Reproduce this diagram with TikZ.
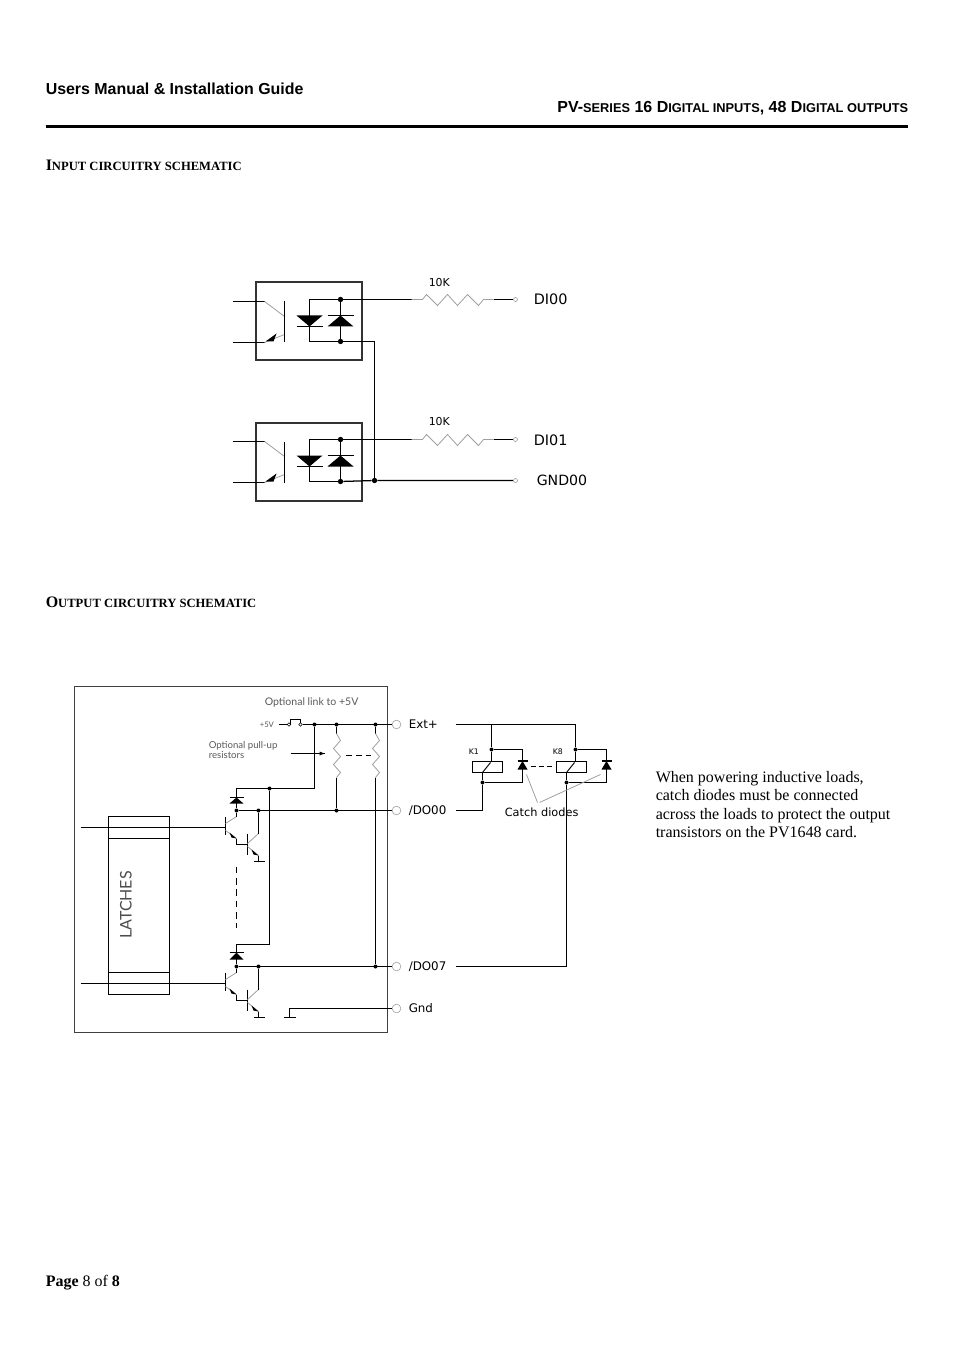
\documentclass[tikz,border=0pt]{standalone}
\usepackage{fontspec}
\usepackage{tikz}
\setmainfont{Liberation Serif}
\newfontfamily\headfont{Liberation Sans}
\newfontfamily\labelfont{DejaVu Sans}
\newfontfamily\cadfont{Lato}
\newcommand{\diode}[4]{\fill (#1-#4,#3) -- (#1+#4,#3) -- (#1,#2) -- cycle; \draw[line width=0.9pt] (#1-#4,#2) -- (#1+#4,#2);}
\tikzset{
  wire/.style={draw, line width=0.95pt},
  thin wire/.style={draw, gray!75, line width=0.6pt},
  dot/.style={circle, fill, inner sep=0pt, minimum size=4pt},
  smalldot/.style={circle, fill, inner sep=0pt, minimum size=3pt},
  term/.style={circle, draw, gray!70, fill=white, inner sep=0pt, line width=0.5pt, minimum size=#1},
  term/.default=6.5pt,
  opto/.style={draw, gray!40!black, line width=1.5pt, minimum width=79.5pt, minimum height=58.5pt},
  txt/.style={anchor=west, inner sep=0pt},
  lbl/.style={txt, font=\labelfont\fontsize{#1}{#1}\selectfont},
  cad/.style={txt, gray!70!black, font=\cadfont\fontsize{#1}{#1}\selectfont}
}
\begin{document}
\begin{tikzpicture}[x=0.75pt, y=-0.75pt, shift={(-0.5,0.5)}]
\useasboundingbox (0.5,-0.5) rectangle (954.5,1350.5);
% Page header
\node[txt, font=\headfont\bfseries\fontsize{11.95}{12}\selectfont] (title) at (46,88.5) {Users Manual \& Installation Guide};
\node[anchor=east, inner sep=0pt, font=\headfont\bfseries\fontsize{12}{12}\selectfont] (series) at (909,108)
  {PV-{\fontsize{9.6}{9.6}\selectfont SERIES} 16 D{\fontsize{9.6}{9.6}\selectfont IGITAL INPUTS}, 48 D{\fontsize{9.6}{9.6}\selectfont IGITAL OUTPUTS}};
\coordinate (rulea) at (46,126);
\coordinate (ruleb) at (908,126);
\draw[line width=2.2pt] (rulea) -- (ruleb);
\node[txt, font=\bfseries\fontsize{12}{12}\selectfont] (insec) at (46,164.8) {I{\fontsize{9.45}{9.6}\selectfont NPUT CIRCUITRY SCHEMATIC}};
\node[txt, font=\bfseries\fontsize{12}{12}\selectfont] (outsec) at (46,601.8) {O{\fontsize{9.45}{9.6}\selectfont UTPUT CIRCUITRY SCHEMATIC}};
\node[txt, font=\fontsize{12}{12}\selectfont] (page) at (46,1282.5) {\textbf{Page} 8 of \textbf{8}};
% Input optocouplers
\foreach \n/\y in {1/0, 2/140}{
  \node[opto] (opto\n) at (309,321+\y) {};
  \coordinate (ina\n) at (233,301+\y);
  \coordinate (inb\n) at (233,342+\y);
  \coordinate (cola\n) at (265,301+\y);
  \coordinate (colb\n) at (285,316+\y);
  \coordinate (ema\n) at (285,334+\y);
  \coordinate (emb\n) at (265,342+\y);
  \coordinate (bara\n) at (285,301+\y);
  \coordinate (barb\n) at (285,342+\y);
  \coordinate (dk\n) at (310,341+\y);
  \node[dot] (jt\n) at (341,299+\y) {};
  \node[dot] (jb\n) at (341,341+\y) {};
  \coordinate (ra\n) at (412,299+\y);
  \coordinate (rb\n) at (494,299+\y);
  \node[term=3pt] (di\n) at (516,299+\y) {};
  \draw[wire] (ina\n) -- (cola\n);
  \draw[wire] (inb\n) -- (emb\n);
  \draw[thin wire] (cola\n) -- (colb\n);
  \draw[thin wire] (ema\n) -- (emb\n);
  \fill (emb\n) ++(1,-1) -- ++(11,-8) -- ++(-3,8) -- cycle;
  \draw[line width=1.4pt] (bara\n) -- (barb\n);
  \draw[wire] (jb\n) -- (jt\n);
  \draw[wire] (jt\n) -| (dk\n) -- (jb\n);
  \diode{310}{326+\y}{315+\y}{13}
  \diode{341}{315+\y}{326+\y}{13}
  \draw[wire] (jt\n) -- (ra\n);
  \draw[thin wire] (ra\n) -- ++(11,0) -- ++(4,-5) -- ++(11,11) -- ++(10,-11) -- ++(10,11) -- ++(10,-11) -- ++(11,11) -- ++(5,-6) -- (rb\n);
  \draw[wire] (rb\n) -- (di\n);
}
\node[term=3pt] (gnd) at (516,480) {};
\node[dot] (jg) at (375,480) {};
\draw[wire] (jb2) -- (jg) -- (gnd);
\draw[wire] (jb1) -| (jg);
\node[lbl=8.2] (k1) at (429,282.5) {10K};
\node[lbl=8.2] (k2) at (429,421.5) {10K};
\node[lbl=10.8] (di00) at (534,299) {DI00};
\node[lbl=10.8] (di01) at (534,440) {DI01};
\node[lbl=10.6] (gnd00) at (537,480) {GND00};
\begin{scope}[xshift=0.75pt]
% Output card
\node[draw, gray!50!black, line width=1.1pt, minimum width=234.75pt, minimum height=259.5pt] (card) at (230.5,859) {};
\node[draw, line width=0.8pt, minimum width=45.75pt, minimum height=133.5pt] (latches) at (138.5,905) {};
\draw[line width=0.8pt] (108,838) -- (169,838);
\draw[line width=0.8pt] (108,972) -- (169,972);
\node[rotate=90, inner sep=0pt, gray!60!black, font=\cadfont\fontsize{12}{12}\selectfont] (lt) at (125.5,904.5) {LATCHES};
% Terminals
\foreach \n/\y in {ext/724, doa/810, dob/966, gd/1008}
  \node[term] (t\n) at (396,\y) {};
\node[lbl=8.9] (lext) at (408,723.5) {Ext+};
\node[lbl=8.9] (ldoa) at (408,810) {/DO00};
\node[lbl=8.9] (ldob) at (408,966) {/DO07};
\node[lbl=8.9] (lgd) at (408,1007.5) {Gnd};
% Darlington stages
\foreach \n/\y in {1/0, 2/156}{
  \coordinate (lin\n) at (80,827+\y);
  \coordinate (lout\n) at (225,827+\y);
  \coordinate (ba\n) at (225,816+\y);
  \coordinate (bb\n) at (225,834+\y);
  \coordinate (ca\n) at (247,833+\y);
  \coordinate (cb\n) at (247,854+\y);
  \coordinate (q\n) at (236,844+\y);
  \coordinate (r\n) at (247,844+\y);
  \node[smalldot] (col\n) at (236,810+\y) {};
  \node[smalldot] (cot\n) at (258,810+\y) {};
  \coordinate (cob\n) at (258,833+\y);
  \coordinate (gn\n) at (258,861+\y);
  \draw[wire] (lin\n) -- (lout\n);
  \draw[wire] (ba\n) -- (bb\n);
  \draw[wire] (ca\n) -- (cb\n);
  \draw[thin wire] (225,823+\y) -- (236,816+\y);
  \draw[wire] (col\n) -- (236,816+\y);
  \draw[thin wire] (225,830+\y) -- (236,838+\y);
  \draw[wire] (236,838+\y) -- (q\n) -- (r\n);
  \draw[thin wire] (247,843+\y) -- (cob\n);
  \draw[thin wire] (247,846+\y) -- (258,855+\y);
  \fill (236,838+\y) -- (229,832+\y) -- (231,837+\y) -- cycle;
  \fill (258,855+\y) -- (251,849+\y) -- (253,854+\y) -- cycle;
  \draw[wire] (cot\n) -- (cob\n);
  \draw[wire] (253,861+\y) -- (264,861+\y);
  \draw[wire] (258,855+\y) -- (gn\n);
}
% Rails
\node[smalldot] (rail) at (269,788) {};
\node[smalldot] (ja) at (314,724) {};
\node[smalldot] (jc) at (336,724) {};
\node[smalldot] (jd) at (375,724) {};
\node[smalldot] (je) at (336,810) {};
\node[smalldot] (jf) at (375,966) {};
\coordinate (dtop) at (236,788);
\coordinate (dbot) at (236,944);
\coordinate (rb) at (269,944);
\draw[wire] (col1) -- (dtop) -| (ja);
\draw[wire] (rail) -- (rb) -- (dbot) -- (col2);
\draw[wire] (col1) -- (tdoa);
\draw[wire] (col2) -- (tdob);
\diode{236}{797}{803}{7}
\diode{236}{952}{959}{7}
\coordinate (dsa) at (236,866);
\coordinate (dsb) at (236,927);
\draw[wire, dashed, dash pattern=on 5pt off 3.5pt] (dsa) -- (dsb);
% Pull-up resistors
\foreach \n/\x/\e in {c/336/je, d/375/jf}{
  \coordinate (r\n a) at (\x,733);
  \coordinate (r\n b) at (\x,777);
  \draw[wire] (j\n) -- (r\n a);
  \draw[thin wire] (r\n a) -- ++(4,7) -- ++(-7,8) -- ++(7,8) -- ++(-7,8) -- ++(7,8) -- ++(-4,5);
  \draw[wire] (r\n b) -- (\e);
}
\coordinate (pla) at (345,755);
\coordinate (plb) at (370,755);
\draw[wire, dashed, dash pattern=on 4.5pt off 3pt] (pla) -- (plb);
\coordinate (paa) at (290,753);
\coordinate (pab) at (324,753);
\draw[wire] (paa) -- (pab);
\fill (pab) -- ++(-5,-2) -- ++(0,4) -- cycle;
% Optional link
\node[term=2.6pt, draw=black] (lka) at (288.5,724) {};
\node[term=2.6pt, draw=black] (lkb) at (300,724) {};
\coordinate (fv) at (278,724);
\draw[wire] (fv) -- (lka);
\draw[wire] (lkb) -- (text);
\draw[line width=1.1pt] (290,724) -- (290,719) -- (300,719) -- (300,722);
\node[cad=7.9] (optl) at (264,702) {Optional link to +5V};
\node[cad=5.8] (fvl) at (259,724.5) {+5V};
\node[cad=7.2] (optp) at (208,745) {Optional pull-up};
\node[cad=7.2] (optr) at (208,755) {resistors};
% Ground return
\coordinate (gt) at (289,1008);
\coordinate (gb) at (289,1017);
\coordinate (gla) at (283,1017);
\coordinate (glb) at (295,1017);
\draw[wire] (tgd) -- (gt) -- (gb);
\draw[wire] (gla) -- (glb);
% Relays
\foreach \n/\x/\xd/\s in {1/491/522/0, 2/575/606/84}{
  \node[draw, line width=1.3pt, minimum width=22.5pt, minimum height=8.25pt] (coil\n) at (487+\s,766.5) {};
  \node[smalldot] (ctop\n) at (\x,749) {};
  \node[smalldot] (cbot\n) at (482+\s,782) {};
  \coordinate (cin\n) at (\x,761);
  \coordinate (cout\n) at (482+\s,772);
  \coordinate (dr\n) at (\xd,749);
  \coordinate (ds\n) at (\xd,782);
  \draw[wire] (ctop\n) -- (cin\n);
  \draw[wire] (cout\n) -- (cbot\n);
  \draw[wire] (ctop\n) -- (dr\n) -- (ds\n) -- (cbot\n);
  \draw[line width=0.7pt] (cout\n) -- (490+\s,762);
  \diode{\xd}{760.5}{769}{5}
}
\coordinate (eo) at (455,724);
\coordinate (et) at (575,724);
\coordinate (ea) at (491,724);
\draw[wire] (eo) -- (et) -- (ctop2);
\draw[wire] (ea) -- (ctop1);
\coordinate (oa) at (455,810);
\coordinate (ob) at (455,966);
\coordinate (oc) at (566,966);
\draw[wire] (oa) -| (cbot1);
\draw[wire] (ob) -- (oc) -- (cbot2);
\coordinate (kda) at (530,766);
\coordinate (kdb) at (553,766);
\draw[wire, dashed, dash pattern=on 4pt off 2pt] (kda) -- (kdb);
\node[lbl=5.8] (ka) at (468,751) {K1};
\node[lbl=5.8] (kb) at (552,751) {K8};
\coordinate (lda) at (526,774);
\coordinate (ldb) at (537,802);
\coordinate (ldc) at (600,774);
\coordinate (ldd) at (539,802);
\draw[thin wire] (lda) -- (ldb);
\draw[thin wire] (ldc) -- (ldd);
\node[lbl=8.5] (catch) at (504,812) {Catch diodes};
\end{scope}
% Note
\node[anchor=north west, inner sep=0pt, align=left, font=\fontsize{12}{13.9}\selectfont] (note) at (656,770.5)
  {When powering inductive loads,\\catch diodes must be connected\\across the loads to protect the output\\transistors on the PV1648 card.};
\end{tikzpicture}
\end{document}
